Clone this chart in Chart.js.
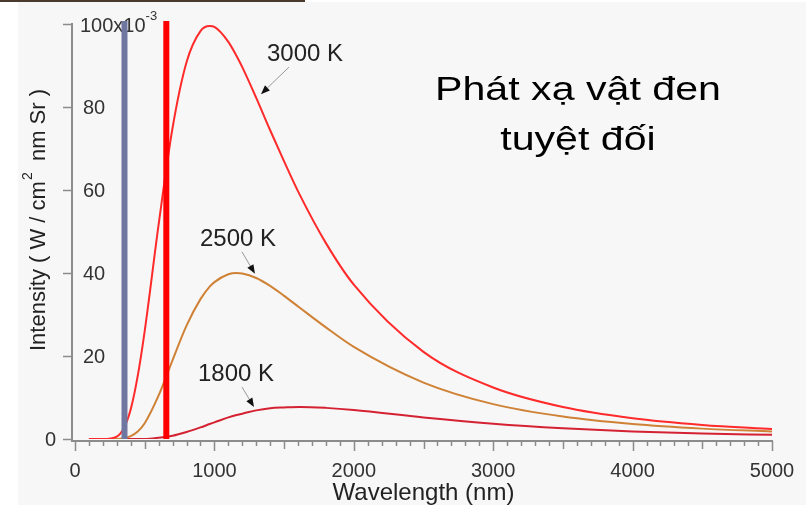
<!DOCTYPE html>
<html>
<head>
<meta charset="utf-8">
<script src="https://cdn.jsdelivr.net/npm/chart.js@4.4.1/dist/chart.umd.min.js"></script>
<style>
  html, body { margin: 0; padding: 0; background: #fff; }
  canvas { display: block; }
</style>
</head>
<body>
<canvas id="chart" width="811" height="505"></canvas>
<script>
// wavelength (nm) and intensity (x10^-3 W / cm2 nm Sr)
const wavelengths = [100, 200, 300, 350, 400, 450, 500, 600, 700, 800, 900, 966, 1000, 1100, 1159, 1200, 1300, 1400, 1500, 1610, 1800, 2000, 2500, 3000, 3500, 4000, 4500, 5000];
const intensity3000 = [0, 0, 0.6, 2.6, 7.2, 15.2, 26.0, 51.7, 75.0, 90.8, 98.3, 99.5, 99.3, 95.7, 92.3, 89.6, 82.2, 74.4, 66.9, 59.0, 47.2, 37.2, 21.0, 12.4, 7.7, 5.0, 3.4, 2.4];
const intensity2500 = [0, 0, 0, 0.2, 0.7, 1.8, 3.8, 10.5, 19.0, 27.3, 33.7, 36.7, 37.8, 39.7, 40.0, 39.9, 38.8, 36.9, 34.5, 31.7, 26.9, 22.2, 13.6, 8.4, 5.4, 3.6, 2.5, 1.8];
const intensity1800 = [0, 0, 0, 0, 0, 0, 0, 0.3, 0.8, 1.7, 2.8, 3.6, 4.0, 5.2, 5.8, 6.1, 6.9, 7.4, 7.6, 7.74, 7.5, 7.0, 5.2, 3.7, 2.6, 1.8, 1.3, 1.0];
const curveLabels = ['3000 K', '2500 K', '1800 K'];
const markerWavelengths = [355, 655]; // the two thick vertical bars
const markerTop = 100.7;
const xTicks = [0, 1000, 2000, 3000, 4000, 5000];
const yTicks = [0, 20, 40, 60, 80, 100];
const minorStep = 100;
const titleLines = ['Phát xạ vật đen', 'tuyệt đối'];

const FONT = '"Liberation Sans", Arial, sans-serif';

function points(ys) {
  return wavelengths.map((x, i) => ({ x: x, y: ys[i] }));
}
function bar(x) {
  return [{ x: x, y: 0 }, { x: x, y: markerTop }];
}

const backdrop = {
  id: 'backdrop',
  beforeDraw(chart) {
    const ctx = chart.ctx;
    ctx.save();
    ctx.fillStyle = '#ffffff';
    ctx.fillRect(0, 0, chart.width, chart.height);
    ctx.fillStyle = '#f7f7f7';
    ctx.fillRect(18, 2, 788, chart.height - 2);
    ctx.fillStyle = '#4b3a2b';
    ctx.fillRect(0, 0, 305, 2);
    ctx.restore();
  }
};

const axes = {
  id: 'axes',
  beforeDatasetsDraw(chart) {
    const ctx = chart.ctx;
    const sx = chart.scales.x, sy = chart.scales.y;
    const axisX = sx.left - 3;
    const axisY = sy.bottom + 2;
    ctx.save();
    ctx.strokeStyle = '#8c8c8c';
    ctx.lineWidth = 2;
    ctx.beginPath();
    ctx.moveTo(axisX, sy.getPixelForValue(100) - 1);
    ctx.lineTo(axisX, axisY);
    ctx.lineTo(sx.right + 1, axisY);
    ctx.stroke();

    ctx.lineWidth = 1.5;
    ctx.beginPath();
    yTicks.forEach(v => {
      const py = Math.round(sy.getPixelForValue(v)) + 0.5;
      ctx.moveTo(axisX - 9, py);
      ctx.lineTo(axisX, py);
    });
    for (let v = sx.min; v <= sx.max; v += minorStep) {
      const px = Math.round(sx.getPixelForValue(v)) + 0.5;
      const len = v % 1000 === 0 ? 10 : (v % 500 === 0 ? 8 : 5);
      ctx.moveTo(px, axisY);
      ctx.lineTo(px, axisY + len);
    }
    ctx.stroke();

    // tick labels
    ctx.fillStyle = '#333';
    ctx.font = '20px ' + FONT;
    ctx.textAlign = 'center';
    ctx.textBaseline = 'alphabetic';
    xTicks.forEach(v => {
      ctx.fillText(String(v), sx.getPixelForValue(v), 477);
    });
    yTicks.forEach(v => {
      const py = sy.getPixelForValue(v);
      if (v === 0) {
        ctx.textAlign = 'right';
        ctx.fillText('0', 56, py + 7);
      } else if (v === sy.max) {
        ctx.textAlign = 'left';
        ctx.fillText(v + 'x10', 80, py + 8);
        const w = ctx.measureText(v + 'x10').width;
        ctx.font = '13px ' + FONT;
        ctx.fillText('-3', 80 + w, py - 4);
        ctx.font = '20px ' + FONT;
      } else {
        ctx.textAlign = 'left';
        ctx.fillText(String(v), 83, py + 7);
      }
    });

    // axis titles
    ctx.fillStyle = '#222';
    ctx.font = '24px ' + FONT;
    ctx.textAlign = 'center';
    ctx.fillText('Wavelength (nm)', (sx.left + sx.right) / 2, 500);

    ctx.translate(45, 220);
    ctx.rotate(-Math.PI / 2);
    ctx.font = '22px ' + FONT;
    const a = 'Intensity ( W / cm', b = '2', c = '  nm Sr )';
    const wa = ctx.measureText(a).width;
    const wc = ctx.measureText(c).width;
    ctx.font = '14px ' + FONT;
    const wb = ctx.measureText(b).width;
    const start = -(wa + wb + wc) / 2;
    ctx.textAlign = 'left';
    ctx.font = '22px ' + FONT;
    ctx.fillText(a, start, 0);
    ctx.fillText(c, start + wa + wb, 0);
    ctx.font = '14px ' + FONT;
    ctx.fillText(b, start + wa + 1, -13);
    ctx.restore();
  }
};

const notes = {
  id: 'notes',
  afterDatasetsDraw(chart) {
    const ctx = chart.ctx;
    const sx = chart.scales.x, sy = chart.scales.y;
    // arrow tip in data units, arrow tail and label offsets in px
    const spec = [
      { text: curveLabels[0], tip: [1334, 83.1], tail: [28, -27], label: [6, -33] },
      { text: curveLabels[1], tip: [1291, 39.8], tail: [-13, -22], label: [-55, -28] },
      { text: curveLabels[2], tip: [1284, 7.7], tail: [-12, -20], label: [-56, -26] }
    ];
    ctx.save();
    spec.forEach(n => {
      const tx = sx.getPixelForValue(n.tip[0]);
      const ty = sy.getPixelForValue(n.tip[1]);
      const ax = tx + n.tail[0], ay = ty + n.tail[1];
      const ang = Math.atan2(ty - ay, tx - ax);
      const hl = 9, hw = 3.5;
      const bx = tx - hl * Math.cos(ang), by = ty - hl * Math.sin(ang);
      ctx.strokeStyle = '#999';
      ctx.lineWidth = 1;
      ctx.beginPath();
      ctx.moveTo(ax, ay);
      ctx.lineTo(bx, by);
      ctx.stroke();
      ctx.fillStyle = '#111';
      ctx.beginPath();
      ctx.moveTo(tx, ty);
      ctx.lineTo(bx + hw * Math.sin(ang), by - hw * Math.cos(ang));
      ctx.lineTo(bx - hw * Math.sin(ang), by + hw * Math.cos(ang));
      ctx.closePath();
      ctx.fill();
      ctx.fillStyle = '#222';
      ctx.font = '24px ' + FONT;
      ctx.textAlign = 'left';
      ctx.textBaseline = 'alphabetic';
      ctx.fillText(n.text, tx + n.label[0], ty + n.label[1]);
    });

    // slide title, slightly stretched like the picture
    ctx.fillStyle = '#000';
    ctx.font = '34px ' + FONT;
    ctx.textAlign = 'center';
    titleLines.forEach((line, i) => {
      ctx.save();
      ctx.translate(578, 100 + i * 50);
      ctx.scale(1.21, 1);
      ctx.fillText(line, 0, 0);
      ctx.restore();
    });
    ctx.restore();
  }
};

const curve = (label, data, color) => ({
  label: label,
  data: points(data),
  borderColor: color,
  borderWidth: 2,
  pointRadius: 0,
  fill: false,
  cubicInterpolationMode: 'monotone',
  order: 3
});

new Chart(document.getElementById('chart'), {
  type: 'line',
  data: {
    datasets: [
      curve(curveLabels[0], intensity3000, '#ff2a2a'),
      curve(curveLabels[1], intensity2500, '#cf8236'),
      curve(curveLabels[2], intensity1800, '#d42232'),
      {
        label: 'uv edge',
        data: bar(markerWavelengths[0]),
        borderColor: '#6f77a0',
        borderWidth: 6,
        borderCapStyle: 'butt',
        pointRadius: 0,
        clip: false,
        order: 1
      },
      {
        label: 'red edge',
        data: bar(markerWavelengths[1]),
        borderColor: '#ff0000',
        borderWidth: 6,
        borderCapStyle: 'butt',
        pointRadius: 0,
        clip: false,
        order: 1
      }
    ]
  },
  options: {
    responsive: false,
    animation: false,
    devicePixelRatio: 1,
    layout: { padding: { left: 75, right: 39, top: 24, bottom: 66 } },
    scales: {
      x: { type: 'linear', min: 0, max: 5000, display: false },
      y: { type: 'linear', min: 0, max: 100, display: false }
    },
    plugins: {
      legend: { display: false },
      tooltip: { enabled: false }
    }
  },
  plugins: [backdrop, axes, notes]
});
</script>
</body>
</html>
